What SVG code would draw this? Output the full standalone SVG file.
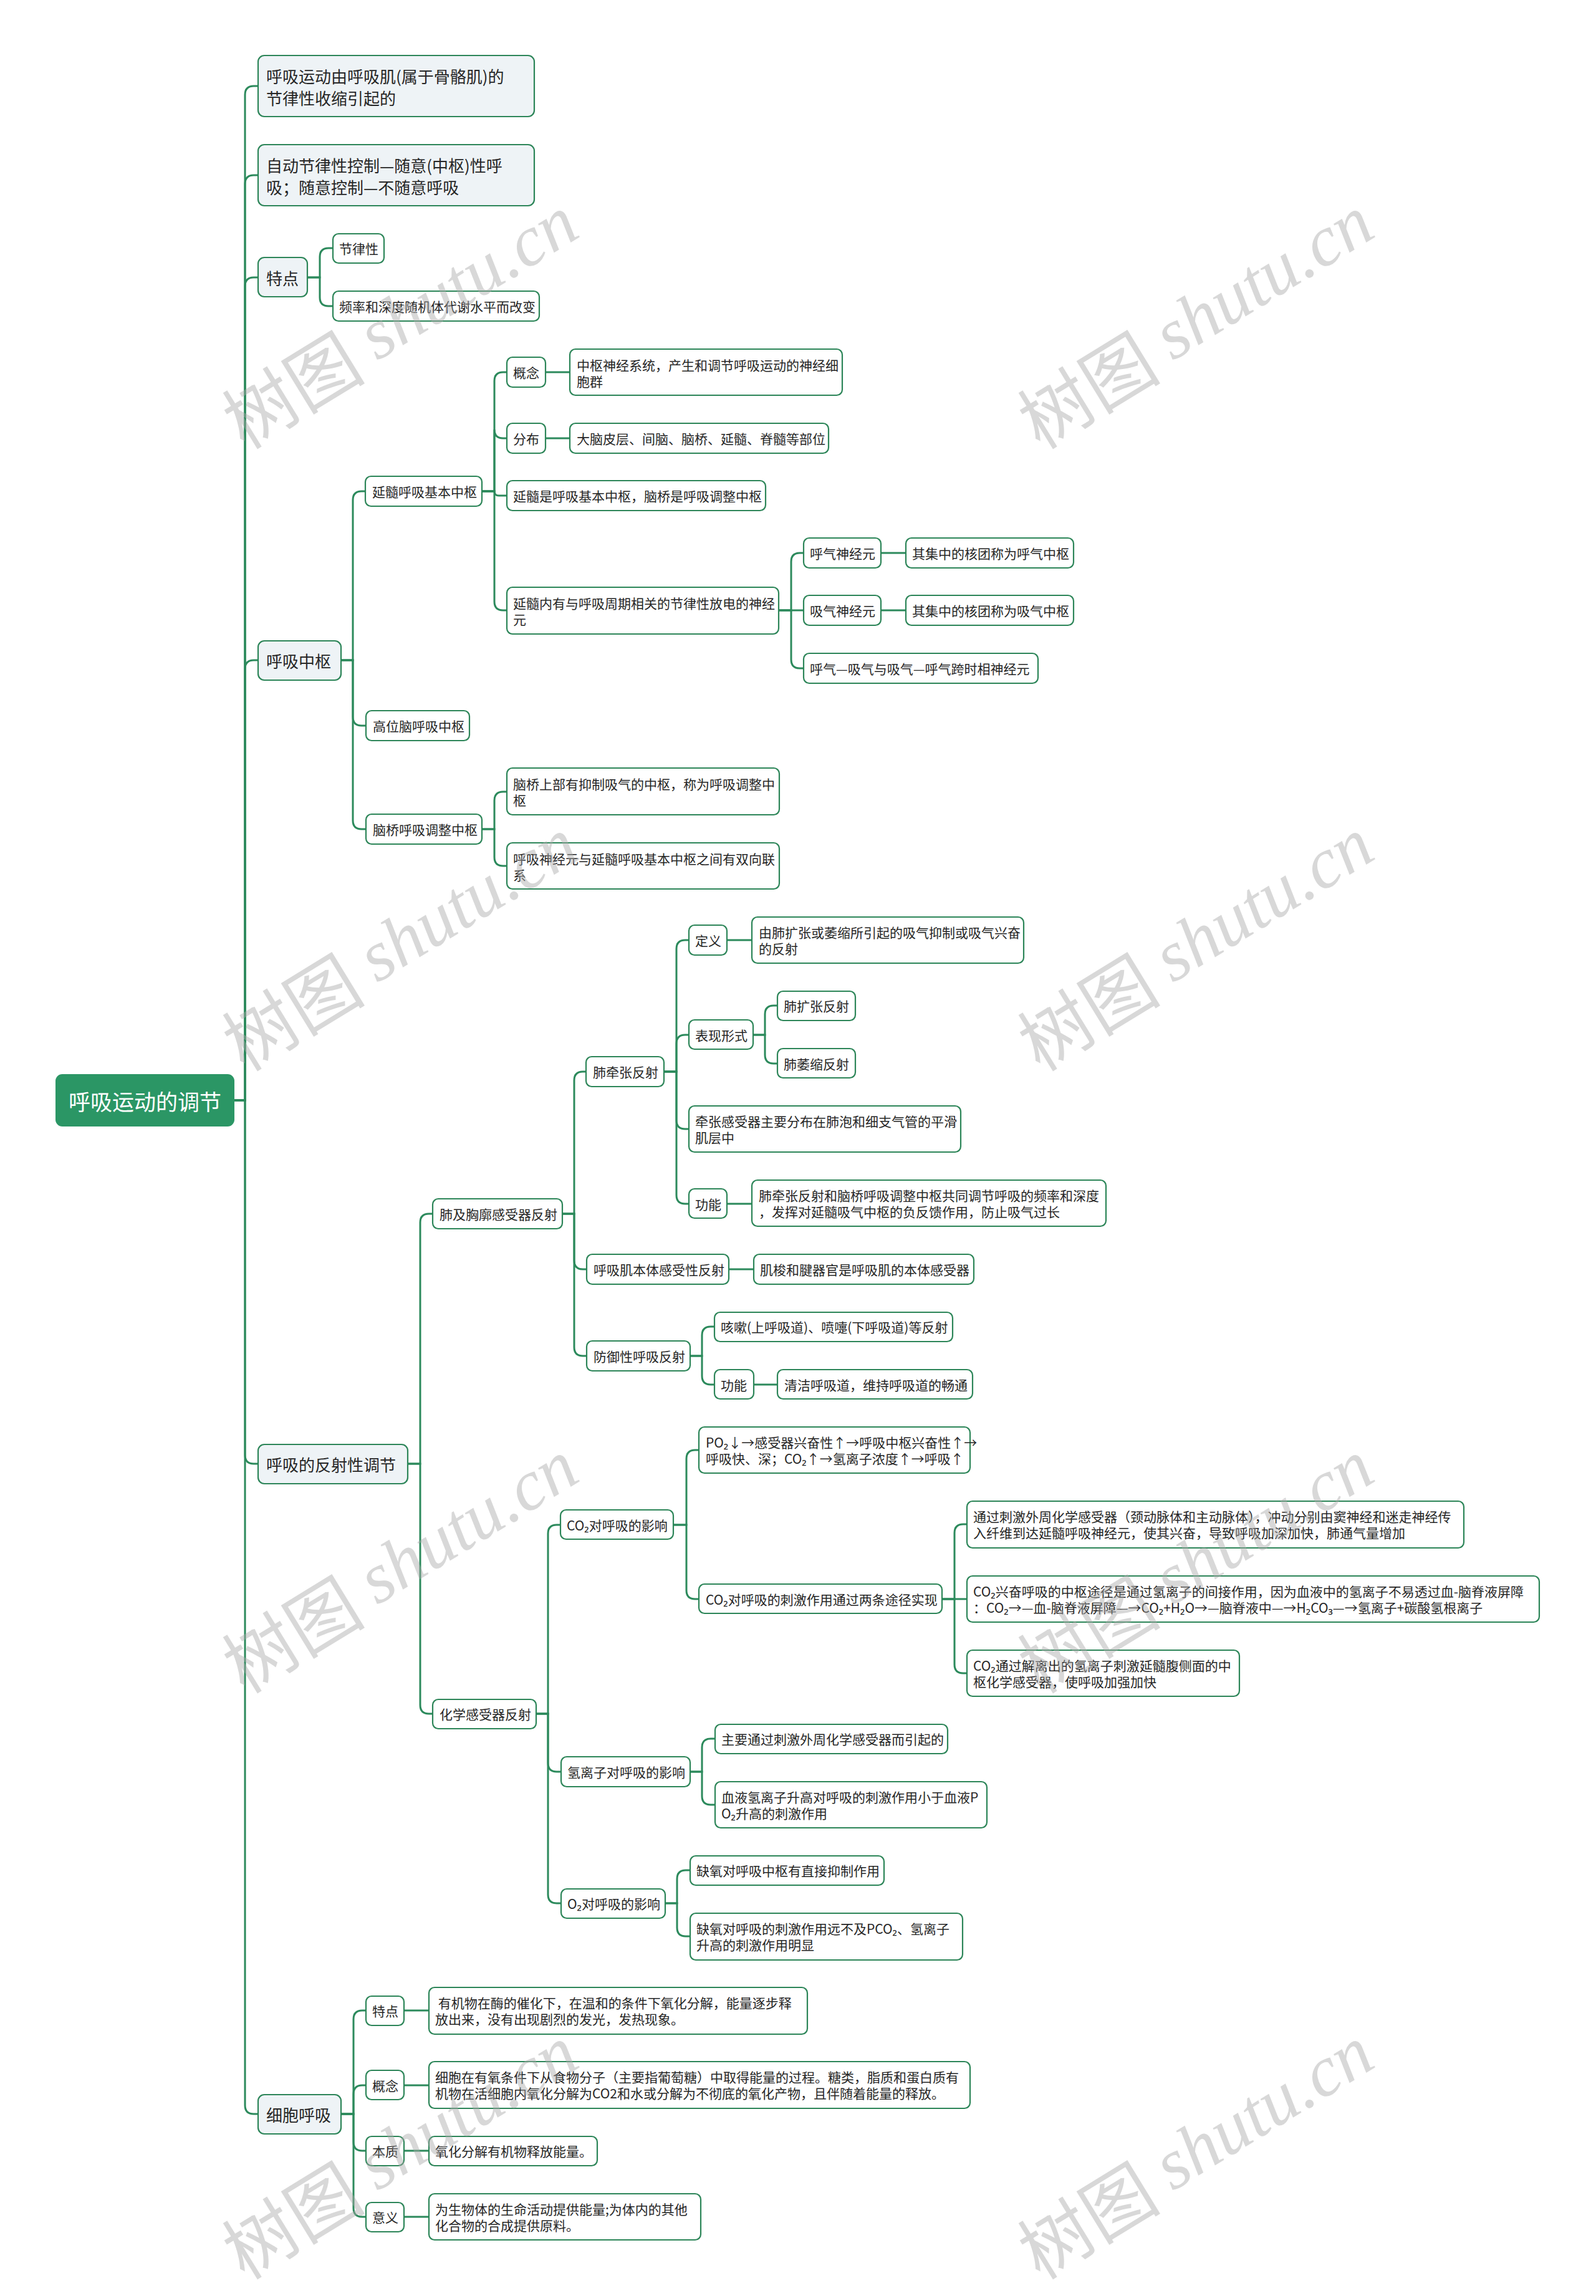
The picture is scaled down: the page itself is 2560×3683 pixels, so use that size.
<svg xmlns="http://www.w3.org/2000/svg" width="2560" height="3683" viewBox="0 0 2560 3683">
<style>
.bg{fill:#ffffff}
.c path{fill:none;stroke:#2c8a5c;stroke-width:3;stroke-linecap:round}
.r0{fill:#2b9665;stroke:none}
.r1{fill:#eef3f6;stroke:#2c8558;stroke-width:2.2}
.r2{fill:#ffffff;stroke:#2c8558;stroke-width:2.2}
text{font-family:"Noto Sans CJK SC","Noto Sans",sans-serif;fill:#262626;dominant-baseline:central}
.t0{font-size:35px;fill:#ffffff;text-anchor:middle}
.t1{font-size:26px}
.t2{font-size:21px}
.wm{font-size:115px;fill:#a8a8a8;fill-opacity:0.45;text-anchor:middle}
.wm tspan{font-family:"Liberation Serif",serif;font-style:italic}
</style>
<rect class="bg" x="0" y="0" width="2560" height="3683"/>
<g class="c" id="connectors">
<path d="M376 1765 H393 V152 Q393 138 407 138 H414"/>
<path d="M376 1765 H393 V295 Q393 281 407 281 H414"/>
<path d="M376 1765 H393 V459 Q393 445 407 445 H414"/>
<path d="M376 1765 H393 V1073 Q393 1059 407 1059 H414"/>
<path d="M376 1765 H393 V2334 Q393 2348 407 2348 H414"/>
<path d="M376 1765 H393 V3377 Q393 3391 407 3391 H414"/>
<path d="M493 445 H513 V412 Q513 398 527 398 H534"/>
<path d="M493 445 H513 V477 Q513 491 527 491 H534"/>
<path d="M547 1059 H566 V802 Q566 788 580 788 H586"/>
<path d="M547 1059 H566 V1150 Q566 1164 580 1164 H587"/>
<path d="M547 1059 H566 V1316 Q566 1330 580 1330 H587"/>
<path d="M773 788 H793 V611 Q793 597 807 597 H813"/>
<path d="M773 788 H793 V689 Q793 703 807 703 H813"/>
<path d="M773 788 H793 Q793 795 800 795 H813"/>
<path d="M773 788 H793 V965 Q793 979 807 979 H813"/>
<path d="M875 597 H914"/>
<path d="M875 703 H914"/>
<path d="M1249 979 H1269 V901 Q1269 887 1283 887 H1289"/>
<path d="M1249 979 H1289"/>
<path d="M1249 979 H1269 V1058 Q1269 1072 1283 1072 H1289"/>
<path d="M1413 887 H1453"/>
<path d="M1413 979 H1453"/>
<path d="M773 1330 H793 V1284 Q793 1270 807 1270 H813"/>
<path d="M773 1330 H793 V1375 Q793 1389 807 1389 H813"/>
<path d="M654 2348 H674 V1961 Q674 1947 688 1947 H694"/>
<path d="M654 2348 H674 V2735 Q674 2749 688 2749 H694"/>
<path d="M902 1947 H921 V1733 Q921 1719 935 1719 H940"/>
<path d="M902 1947 H921 V2022 Q921 2036 935 2036 H941"/>
<path d="M902 1947 H921 V2161 Q921 2175 935 2175 H941"/>
<path d="M1065 1719 H1085 V1522 Q1085 1508 1099 1508 H1105"/>
<path d="M1065 1719 H1085 V1674 Q1085 1660 1099 1660 H1105"/>
<path d="M1065 1719 H1085 V1797 Q1085 1811 1099 1811 H1105"/>
<path d="M1065 1719 H1085 V1917 Q1085 1931 1099 1931 H1105"/>
<path d="M1166 1508 H1206"/>
<path d="M1208 1660 H1227 V1627 Q1227 1613 1241 1613 H1247"/>
<path d="M1208 1660 H1227 V1692 Q1227 1706 1241 1706 H1247"/>
<path d="M1166 1931 H1206"/>
<path d="M1169 2036 H1209"/>
<path d="M1107 2175 H1126 V2142 Q1126 2128 1140 2128 H1146"/>
<path d="M1107 2175 H1126 V2207 Q1126 2221 1140 2221 H1146"/>
<path d="M1209 2221 H1247"/>
<path d="M860 2749 H879 V2460 Q879 2446 893 2446 H899"/>
<path d="M860 2749 H879 V2828 Q879 2842 893 2842 H900"/>
<path d="M860 2749 H879 V3039 Q879 3053 893 3053 H900"/>
<path d="M1080 2446 H1101 V2340 Q1101 2326 1115 2326 H1121"/>
<path d="M1080 2446 H1101 V2551 Q1101 2565 1115 2565 H1121"/>
<path d="M1511 2565 H1531 V2459 Q1531 2445 1545 2445 H1551"/>
<path d="M1511 2565 H1551"/>
<path d="M1511 2565 H1531 V2670 Q1531 2684 1545 2684 H1551"/>
<path d="M1107 2842 H1126 V2803 Q1126 2789 1140 2789 H1147"/>
<path d="M1107 2842 H1126 V2881 Q1126 2895 1140 2895 H1147"/>
<path d="M1067 3053 H1086 V3014 Q1086 3000 1100 3000 H1107"/>
<path d="M1067 3053 H1086 V3092 Q1086 3106 1100 3106 H1107"/>
<path d="M547 3391 H567 V3239 Q567 3225 581 3225 H587"/>
<path d="M547 3391 H567 V3359 Q567 3345 581 3345 H587"/>
<path d="M547 3391 H567 V3436 Q567 3450 581 3450 H587"/>
<path d="M547 3391 H567 V3542 Q567 3556 581 3556 H587"/>
<path d="M648 3225 H688"/>
<path d="M648 3345 H688"/>
<path d="M648 3450 H688"/>
<path d="M648 3556 H688"/>
</g>
<g id="root"><rect class="r0" x="89" y="1723" width="287" height="84" rx="11"/><text class="t0" x="232.5" y="1765">呼吸运动的调节</text></g>
<g id="n_a1"><rect class="r1" x="414" y="89" width="443" height="98" rx="10"/><text class="t1" x="427" y="121">呼吸运动由呼吸肌(属于骨骼肌)的</text><text class="t1" x="427" y="156">节律性收缩引起的</text></g>
<g id="n_a2"><rect class="r1" x="414" y="232" width="443" height="98" rx="10"/><text class="t1" x="427" y="264">自动节律性控制—随意(中枢)性呼</text><text class="t1" x="427" y="299">吸；随意控制—不随意呼吸</text></g>
<g id="n_a3"><rect class="r1" x="414" y="413" width="79" height="63" rx="10"/><text class="t1" x="427" y="445">特点</text></g>
<g id="n_b1"><rect class="r2" x="534" y="375" width="82" height="47" rx="9"/><text class="t2" x="544" y="398">节律性</text></g>
<g id="n_b2"><rect class="r2" x="534" y="467" width="331" height="48" rx="9"/><text class="t2" x="544" y="491">频率和深度随机体代谢水平而改变</text></g>
<g id="n_a4"><rect class="r1" x="414" y="1028" width="133" height="63" rx="10"/><text class="t1" x="427" y="1059">呼吸中枢</text></g>
<g id="n_c1"><rect class="r2" x="586" y="764" width="187" height="48" rx="9"/><text class="t2" x="597" y="788">延髓呼吸基本中枢</text></g>
<g id="n_d1"><rect class="r2" x="813" y="573" width="62" height="48" rx="9"/><text class="t2" x="823" y="597">概念</text></g>
<g id="n_e1"><rect class="r2" x="914" y="560" width="437" height="74" rx="9"/><text class="t2" x="925" y="585">中枢神经系统，产生和调节呼吸运动的神经细</text><text class="t2" x="925" y="611">胞群</text></g>
<g id="n_d2"><rect class="r2" x="813" y="679" width="62" height="48" rx="9"/><text class="t2" x="823" y="703">分布</text></g>
<g id="n_e2"><rect class="r2" x="914" y="679" width="415" height="48" rx="9"/><text class="t2" x="925" y="703">大脑皮层、间脑、脑桥、延髓、脊髓等部位</text></g>
<g id="n_d3"><rect class="r2" x="813" y="771" width="415" height="48" rx="9"/><text class="t2" x="823" y="795">延髓是呼吸基本中枢，脑桥是呼吸调整中枢</text></g>
<g id="n_d4"><rect class="r2" x="813" y="942" width="436" height="75" rx="9"/><text class="t2" x="823" y="967">延髓内有与呼吸周期相关的节律性放电的神经</text><text class="t2" x="823" y="993">元</text></g>
<g id="n_f1"><rect class="r2" x="1289" y="863" width="124" height="48" rx="9"/><text class="t2" x="1299" y="887">呼气神经元</text></g>
<g id="n_g1"><rect class="r2" x="1453" y="863" width="269" height="48" rx="9"/><text class="t2" x="1463" y="887">其集中的核团称为呼气中枢</text></g>
<g id="n_f2"><rect class="r2" x="1289" y="955" width="124" height="48" rx="9"/><text class="t2" x="1299" y="979">吸气神经元</text></g>
<g id="n_g2"><rect class="r2" x="1453" y="955" width="269" height="48" rx="9"/><text class="t2" x="1463" y="979">其集中的核团称为吸气中枢</text></g>
<g id="n_f3"><rect class="r2" x="1289" y="1048" width="376" height="48" rx="9"/><text class="t2" x="1299" y="1072">呼气—吸气与吸气—呼气跨时相神经元</text></g>
<g id="n_c2"><rect class="r2" x="587" y="1140" width="166" height="48" rx="9"/><text class="t2" x="598" y="1164">高位脑呼吸中枢</text></g>
<g id="n_c3"><rect class="r2" x="587" y="1306" width="186" height="48" rx="9"/><text class="t2" x="598" y="1330">脑桥呼吸调整中枢</text></g>
<g id="n_d5"><rect class="r2" x="813" y="1232" width="437" height="75" rx="9"/><text class="t2" x="823" y="1257">脑桥上部有抑制吸气的中枢，称为呼吸调整中</text><text class="t2" x="823" y="1283">枢</text></g>
<g id="n_d6"><rect class="r2" x="813" y="1352" width="437" height="74" rx="9"/><text class="t2" x="823" y="1377">呼吸神经元与延髓呼吸基本中枢之间有双向联</text><text class="t2" x="823" y="1403">系</text></g>
<g id="n_a5"><rect class="r1" x="414" y="2317" width="240" height="63" rx="10"/><text class="t1" x="427" y="2348">呼吸的反射性调节</text></g>
<g id="n_h1"><rect class="r2" x="694" y="1923" width="208" height="48" rx="9"/><text class="t2" x="705" y="1947">肺及胸廓感受器反射</text></g>
<g id="n_i1"><rect class="r2" x="940" y="1695" width="125" height="48" rx="9"/><text class="t2" x="951" y="1719">肺牵张反射</text></g>
<g id="n_k1"><rect class="r2" x="1105" y="1484" width="61" height="48" rx="9"/><text class="t2" x="1115" y="1508">定义</text></g>
<g id="n_k1c"><rect class="r2" x="1206" y="1471" width="436" height="74" rx="9"/><text class="t2" x="1217" y="1495">由肺扩张或萎缩所引起的吸气抑制或吸气兴奋</text><text class="t2" x="1217" y="1521">的反射</text></g>
<g id="n_k2"><rect class="r2" x="1105" y="1636" width="103" height="47" rx="9"/><text class="t2" x="1115" y="1660">表现形式</text></g>
<g id="n_l1"><rect class="r2" x="1247" y="1590" width="125" height="47" rx="9"/><text class="t2" x="1257" y="1613">肺扩张反射</text></g>
<g id="n_l2"><rect class="r2" x="1247" y="1682" width="125" height="47" rx="9"/><text class="t2" x="1257" y="1706">肺萎缩反射</text></g>
<g id="n_k3"><rect class="r2" x="1105" y="1774" width="436" height="74" rx="9"/><text class="t2" x="1115" y="1798">牵张感受器主要分布在肺泡和细支气管的平滑</text><text class="t2" x="1115" y="1824">肌层中</text></g>
<g id="n_k4"><rect class="r2" x="1105" y="1907" width="61" height="47" rx="9"/><text class="t2" x="1115" y="1931">功能</text></g>
<g id="n_k4c"><rect class="r2" x="1206" y="1893" width="568" height="74" rx="9"/><text class="t2" x="1217" y="1917">肺牵张反射和脑桥呼吸调整中枢共同调节呼吸的频率和深度</text><text class="t2" x="1217" y="1943">，发挥对延髓吸气中枢的负反馈作用，防止吸气过长</text></g>
<g id="n_i2"><rect class="r2" x="941" y="2012" width="228" height="48" rx="9"/><text class="t2" x="952" y="2036">呼吸肌本体感受性反射</text></g>
<g id="n_j"><rect class="r2" x="1209" y="2012" width="353" height="48" rx="9"/><text class="t2" x="1219" y="2036">肌梭和腱器官是呼吸肌的本体感受器</text></g>
<g id="n_i3"><rect class="r2" x="941" y="2151" width="166" height="48" rx="9"/><text class="t2" x="952" y="2175">防御性呼吸反射</text></g>
<g id="n_m1"><rect class="r2" x="1146" y="2105" width="382" height="47" rx="9"/><text class="t2" x="1156" y="2128">咳嗽(上呼吸道)、喷嚏(下呼吸道)等反射</text></g>
<g id="n_m2"><rect class="r2" x="1146" y="2197" width="63" height="47" rx="9"/><text class="t2" x="1156" y="2221">功能</text></g>
<g id="n_m2c"><rect class="r2" x="1247" y="2197" width="313" height="47" rx="9"/><text class="t2" x="1258" y="2221">清洁呼吸道，维持呼吸道的畅通</text></g>
<g id="n_h2"><rect class="r2" x="694" y="2726" width="166" height="47" rx="9"/><text class="t2" x="705" y="2749">化学感受器反射</text></g>
<g id="n_n1"><rect class="r2" x="899" y="2422" width="181" height="47" rx="9"/><text class="t2" x="909" y="2446">CO₂对呼吸的影响</text></g>
<g id="n_o1"><rect class="r2" x="1121" y="2289" width="435" height="74" rx="9"/><text class="t2" x="1132" y="2313">PO₂↓→感受器兴奋性↑→呼吸中枢兴奋性↑→</text><text class="t2" x="1132" y="2339">呼吸快、深；CO₂↑→氢离子浓度↑→呼吸↑</text></g>
<g id="n_o2"><rect class="r2" x="1121" y="2541" width="390" height="47" rx="9"/><text class="t2" x="1132" y="2565">CO₂对呼吸的刺激作用通过两条途径实现</text></g>
<g id="n_p1"><rect class="r2" x="1551" y="2408" width="797" height="75" rx="9"/><text class="t2" x="1561" y="2432">通过刺激外周化学感受器（颈动脉体和主动脉体），冲动分别由窦神经和迷走神经传</text><text class="t2" x="1561" y="2458">入纤维到达延髓呼吸神经元，使其兴奋，导致呼吸加深加快，肺通气量增加</text></g>
<g id="n_p2"><rect class="r2" x="1551" y="2528" width="918" height="74" rx="9"/><text class="t2" x="1561" y="2552">CO₂兴奋呼吸的中枢途径是通过氢离子的间接作用，因为血液中的氢离子不易透过血-脑脊液屏障</text><text class="t2" x="1561" y="2578">：CO₂→—血-脑脊液屏障—→CO₂+H₂O→—脑脊液中—→H₂CO₃—→氢离子+碳酸氢根离子</text></g>
<g id="n_p3"><rect class="r2" x="1551" y="2647" width="437" height="74" rx="9"/><text class="t2" x="1561" y="2671">CO₂通过解离出的氢离子刺激延髓腹侧面的中</text><text class="t2" x="1561" y="2697">枢化学感受器，使呼吸加强加快</text></g>
<g id="n_n2"><rect class="r2" x="900" y="2818" width="207" height="48" rx="9"/><text class="t2" x="910" y="2842">氢离子对呼吸的影响</text></g>
<g id="n_q1"><rect class="r2" x="1147" y="2766" width="373" height="47" rx="9"/><text class="t2" x="1157" y="2789">主要通过刺激外周化学感受器而引起的</text></g>
<g id="n_q2"><rect class="r2" x="1147" y="2858" width="436" height="74" rx="9"/><text class="t2" x="1157" y="2882">血液氢离子升高对呼吸的刺激作用小于血液P</text><text class="t2" x="1157" y="2908">O₂升高的刺激作用</text></g>
<g id="n_n3"><rect class="r2" x="900" y="3030" width="167" height="47" rx="9"/><text class="t2" x="910" y="3053">O₂对呼吸的影响</text></g>
<g id="n_s1"><rect class="r2" x="1107" y="2977" width="311" height="47" rx="9"/><text class="t2" x="1117" y="3000">缺氧对呼吸中枢有直接抑制作用</text></g>
<g id="n_s2"><rect class="r2" x="1107" y="3069" width="437" height="75" rx="9"/><text class="t2" x="1117" y="3093">缺氧对呼吸的刺激作用远不及PCO₂、氢离子</text><text class="t2" x="1117" y="3119">升高的刺激作用明显</text></g>
<g id="n_a6"><rect class="r1" x="414" y="3360" width="133" height="63" rx="10"/><text class="t1" x="427" y="3391">细胞呼吸</text></g>
<g id="n_t1"><rect class="r2" x="587" y="3202" width="61" height="47" rx="9"/><text class="t2" x="597" y="3225">特点</text></g>
<g id="n_t1c"><rect class="r2" x="688" y="3188" width="607" height="75" rx="9"/><text class="t2" x="698" y="3212" xml:space="preserve"> 有机物在酶的催化下，在温和的条件下氧化分解，能量逐步释</text><text class="t2" x="698" y="3238">放出来，没有出现剧烈的发光，发热现象。</text></g>
<g id="n_t2"><rect class="r2" x="587" y="3321" width="61" height="47" rx="9"/><text class="t2" x="597" y="3345">概念</text></g>
<g id="n_t2c"><rect class="r2" x="688" y="3307" width="868" height="75" rx="9"/><text class="t2" x="698" y="3331">细胞在有氧条件下从食物分子（主要指葡萄糖）中取得能量的过程。糖类，脂质和蛋白质有</text><text class="t2" x="698" y="3357">机物在活细胞内氧化分解为CO2和水或分解为不彻底的氧化产物，且伴随着能量的释放。</text></g>
<g id="n_t3"><rect class="r2" x="587" y="3427" width="61" height="47" rx="9"/><text class="t2" x="597" y="3450">本质</text></g>
<g id="n_t3c"><rect class="r2" x="688" y="3427" width="270" height="47" rx="9"/><text class="t2" x="698" y="3450">氧化分解有机物释放能量。</text></g>
<g id="n_t4"><rect class="r2" x="587" y="3533" width="61" height="47" rx="9"/><text class="t2" x="597" y="3556">意义</text></g>
<g id="n_t4c"><rect class="r2" x="688" y="3519" width="436" height="74" rx="9"/><text class="t2" x="698" y="3543">为生物体的生命活动提供能量;为体内的其他</text><text class="t2" x="698" y="3569">化合物的合成提供原料。</text></g>
<g id="watermarks">
<text class="wm" transform="translate(640 512) rotate(-31.5)">树图 <tspan>shutu.cn</tspan></text>
<text class="wm" transform="translate(1916 512) rotate(-31.5)">树图 <tspan>shutu.cn</tspan></text>
<text class="wm" transform="translate(640 1510) rotate(-31.5)">树图 <tspan>shutu.cn</tspan></text>
<text class="wm" transform="translate(1916 1510) rotate(-31.5)">树图 <tspan>shutu.cn</tspan></text>
<text class="wm" transform="translate(640 2508) rotate(-31.5)">树图 <tspan>shutu.cn</tspan></text>
<text class="wm" transform="translate(1916 2508) rotate(-31.5)">树图 <tspan>shutu.cn</tspan></text>
<text class="wm" transform="translate(640 3448) rotate(-31.5)">树图 <tspan>shutu.cn</tspan></text>
<text class="wm" transform="translate(1916 3448) rotate(-31.5)">树图 <tspan>shutu.cn</tspan></text>
</g>
</svg>
